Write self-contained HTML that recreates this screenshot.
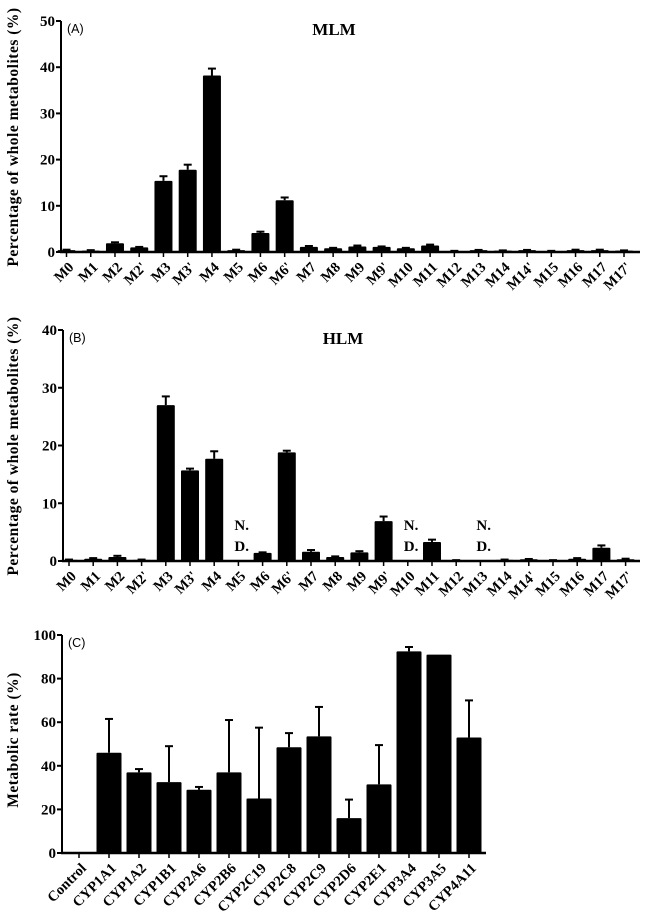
<!DOCTYPE html>
<html><head><meta charset="utf-8">
<style>
html,body{margin:0;padding:0;background:#fff;}
svg{display:block;font-family:"Liberation Serif",serif;}
.t{font-weight:bold;font-size:15px;fill:#000;}
.xl{font-weight:bold;font-size:14.5px;fill:#000;}
</style></head>
<body>
<svg id="fig" width="647" height="918" viewBox="0 0 647 918" xmlns="http://www.w3.org/2000/svg"></svg>
<script>
const catsAB = ["M0","M1","M2","M2'","M3","M3'","M4","M5","M6","M6'","M7","M8","M9","M9'","M10","M11","M12","M13","M14","M14'","M15","M16","M17","M17'"];
const mlmVals = [0.4,0.3,1.9,1.0,15.4,17.8,38.2,0.4,4.1,11.2,1.1,0.8,1.2,1.1,0.8,1.4,0.2,0.4,0.3,0.4,0.2,0.4,0.4,0.3];
const mlmErr  = [0.1,0.1,0.2,0.1,1.0,1.1,1.5,0.1,0.3,0.6,0.2,0.1,0.2,0.1,0.1,0.2,0.05,0.05,0.05,0.05,0.05,0.1,0.1,0.05];
const hlmVals = [0.2,0.4,0.7,0.2,27.0,15.7,17.7,null,1.4,18.8,1.6,0.7,1.5,6.9,null,3.3,0.1,null,0.2,0.3,0.1,0.4,2.3,0.3];
const hlmErr  = [0.05,0.1,0.2,0.05,1.5,0.3,1.3,0,0.1,0.3,0.3,0.1,0.2,0.8,0,0.4,0.05,0,0.05,0.05,0.05,0.1,0.4,0.1];
const catsC = ["Control","CYP1A1","CYP1A2","CYP1B1","CYP2A6","CYP2B6","CYP2C19","CYP2C8","CYP2C9","CYP2D6","CYP2E1","CYP3A4","CYP3A5","CYP4A11"];
const cypVals = [0,46,37,32.5,29,37,25,48.5,53.5,16,31.5,92.5,91,53];
const cypErr  = [0,15.5,1.5,16.5,1.3,24,32.5,6.5,13.5,8.5,18,2,0,17];
const ticksA = [0,10,20,30,40,50];
const ticksB = [0,10,20,30,40];
const ticksC = [0,20,40,60,80,100];

const NS="http://www.w3.org/2000/svg";
const svg=document.getElementById('fig');
function mk(tag,attrs,parent){const e=document.createElementNS(NS,tag);for(const k in attrs)e.setAttribute(k,attrs[k]);(parent||svg).appendChild(e);return e;}

function panel(o){
  const g=mk('g',{});
  
  
  const y=v=>o.y0-(v/o.ymax)*(o.y0-o.ytop);
  const x=i=>o.x0c+i*o.step;
  const ya=mk('line',{x1:o.ax,y1:o.ytop,x2:o.ax,y2:o.y0,stroke:'#000','stroke-width':2},g);
  
  
  const xa=mk('line',{x1:o.ax-1,y1:o.y0,x2:o.axEnd,y2:o.y0,stroke:'#000','stroke-width':2.5},g);
  
  
  o.ticks.forEach(t=>{
    mk('line',{x1:o.ax-5,y1:y(t),x2:o.ax,y2:y(t),stroke:'#000','stroke-width':2},g);
    const tl=mk('text',{x:o.ax-6,y:y(t)+5,'text-anchor':'end',class:'t'},g);
    tl.textContent=t;
    
    
  });
  o.cats.forEach((c,i)=>{
    const cx=x(i);
    mk('line',{x1:cx,y1:o.y0,x2:cx,y2:o.y0+5,stroke:'#000','stroke-width':1.5},g);
    const v=o.vals[i];
    if(v!==null && v>0){
      const e=o.err[i];
      if(e>0){
        const el=mk('line',{x1:cx,y1:y(v+e),x2:cx,y2:y(v),stroke:'#000','stroke-width':2},g);
        
        
        mk('line',{x1:cx-4,y1:y(v+e),x2:cx+4,y2:y(v+e),stroke:'#000','stroke-width':2},g);
      }
      const b=mk('rect',{x:cx-o.bw/2,y:y(v),width:o.bw,height:o.y0-y(v),fill:'#000',rx:1},g);
      
      
    }
    if(v===null){
      const n1=mk('text',{x:cx-4,y:o.y0-31,class:'t'},g);n1.textContent='N.';
      
      
      const n2=mk('text',{x:cx-4,y:o.y0-10,class:'t'},g);n2.textContent='D.';
      
      
    }
    const lx=cx+8,ly=o.y0+16;
    const l=mk('text',{x:lx,y:ly,'text-anchor':'end',class:'xl',transform:`rotate(-45 ${lx} ${ly})`},g);
    l.textContent=c;
    
    
  });
  const yt=mk('text',{x:0,y:0,'text-anchor':'middle',class:'t',style:'font-size:15.5px;letter-spacing:0.5px',transform:`translate(${o.ytX},${o.ytY}) rotate(-90)`},g);
  yt.textContent=o.ytitle;
  
  
  const pl=mk('text',{x:o.ax+6,y:o.ytop+12,style:'font-family:"Liberation Sans",sans-serif;font-size:12.5px'},g);
  pl.textContent=o.letter;
  
  
  if(o.title){
    const tt=mk('text',{x:o.titleX,y:o.ytop+14,'text-anchor':'middle',class:'t',style:'font-size:17px'},g);
    tt.textContent=o.title;
    
    
  }
}
panel({name:'panel-a-mlm',cats:catsAB,vals:mlmVals,err:mlmErr,ticks:ticksA,ymax:50,y0:252,ytop:21,ax:61,axEnd:640,x0c:66.5,step:24.24,bw:18,ytitle:'Percentage of whole metabolites (%)',ytX:18,ytY:137,letter:'(A)',title:'MLM',titleX:334});
panel({name:'panel-b-hlm',cats:catsAB,vals:hlmVals,err:hlmErr,ticks:ticksB,ymax:40,y0:561,ytop:330,ax:63,axEnd:640,x0c:69,step:24.2,bw:18,ytitle:'Percentage of whole metabolites (%)',ytX:18,ytY:446,letter:'(B)',title:'HLM',titleX:343});
panel({name:'panel-c-cyp',cats:catsC,vals:cypVals,err:cypErr,ticks:ticksC,ymax:100,y0:853,ytop:635,ax:62,axEnd:486,x0c:79,step:30,bw:25,ytitle:'Metabolic rate (%)',ytX:18,ytY:740,letter:'(C)',title:null});
</script>
</body></html>
